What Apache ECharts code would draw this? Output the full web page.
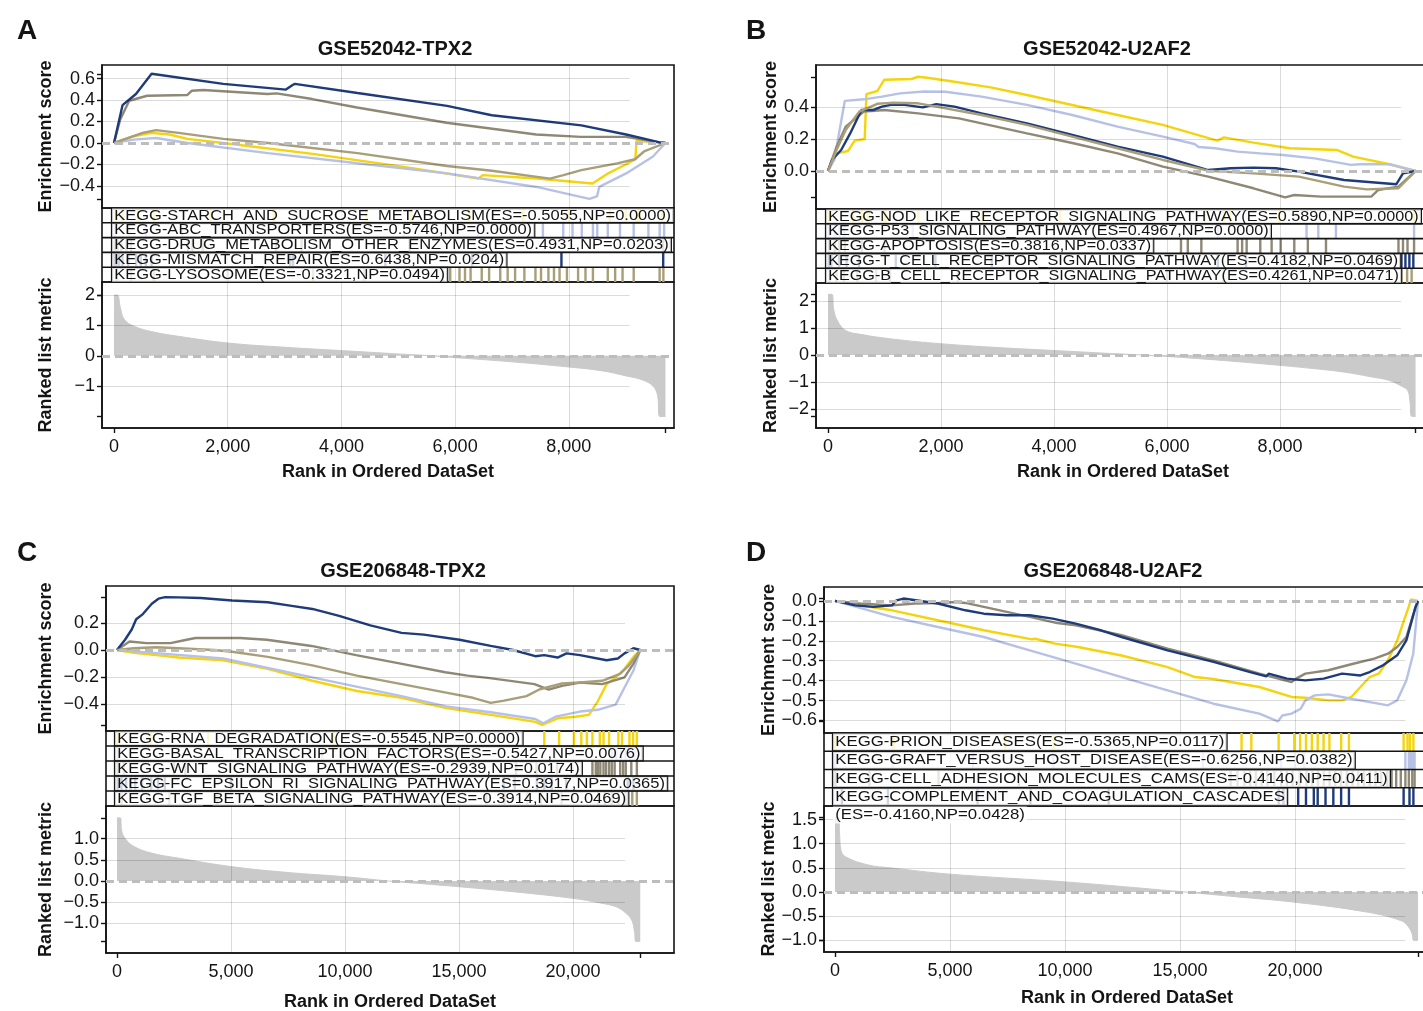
<!DOCTYPE html>
<html>
<head>
<meta charset="utf-8">
<script src="https://cdn.jsdelivr.net/npm/echarts@6/dist/echarts.min.js"></script>
<style>
  html, body { margin: 0; padding: 0; background: #fff; }
  #chart { width: 1423px; height: 1011px; }
</style>
</head>
<body>
<div id="chart"></div>
<script>
// ---------- Panel A: GSE52042-TPX2 ----------
const aLabels = [
  'KEGG-STARCH_AND_SUCROSE_METABOLISM(ES=-0.5055,NP=0.0000)',
  'KEGG-ABC_TRANSPORTERS(ES=-0.5746,NP=0.0000)',
  'KEGG-DRUG_METABOLISM_OTHER_ENZYMES(ES=0.4931,NP=0.0203)',
  'KEGG-MISMATCH_REPAIR(ES=0.6438,NP=0.0204)',
  'KEGG-LYSOSOME(ES=-0.3321,NP=0.0494)'
];
const aStarchES = [[0,0],[346,0.063],[661,0.094],[976,0.079],[1291,0.038],[1921,0],[3496,-0.101],[5071,-0.22],[6409,-0.33],[6488,-0.299],[7433,-0.33],[8417,-0.377],[8700,-0.28],[9000,-0.2],[9170,-0.15],[9190,0.02],[9700,0]];
const aAbcES = [[0,0],[346,0.031],[740,0.047],[1291,0],[2709,-0.094],[4283,-0.189],[5858,-0.283],[7433,-0.409],[8362,-0.52],[8496,-0.497],[8535,-0.409],[9008,-0.283],[9480,-0.126],[9700,0]];
const aDrugES = [[0,0],[110,0.22],[268,0.393],[583,0.44],[1291,0.447],[1370,0.487],[1567,0.493],[2701,0.456],[2859,0.462],[3488,0.409],[4276,0.33],[5850,0.189],[7425,0.079],[8213,0.057],[9000,0.057],[9598,0.006],[9700,0]];
const aMismatchES = [[0,0],[150,0.352],[386,0.456],[661,0.644],[1921,0.55],[3024,0.497],[3142,0.54],[3181,0.55],[4283,0.465],[5858,0.346],[6646,0.258],[8220,0.164],[9008,0.079],[9598,0.006],[9700,0]];
const aLysoES = [[0,0],[504,0.094],[740,0.12],[1134,0.094],[1921,0.038],[2709,0],[4283,-0.094],[5858,-0.214],[6646,-0.258],[7669,-0.332],[7906,-0.299],[8220,-0.252],[8850,-0.189],[9165,-0.151],[9323,-0.079],[9700,0]];
const aStarchHits = [30,150,420,700,1700,2810,4440,5230,6250,7200,8000,8420,8720,9000,9180,9210,9240,9640];
const aAbcHits = [20,260,560,1200,2400,3700,5100,6400,7544,7902,8065,8228,8424,8500,8685,8900,9141,9400,9598,9676];
const aDrugHits = [15,60,130,220,300,1300,1380,1560,2850,3300,5200,9660];
const aMismatchHits = [10,45,90,150,250,390,470,560,660,3100,3150,4773,6300,7870,9660];
const aLysoHits = [50,300,700,2000,3500,4400,5783,5914,6077,6174,6272,6468,6598,6794,6924,7055,7218,7413,7511,7641,7739,7837,7967,8163,8293,8424,8685,8815,8945,9141,9597,9663];
const aMetric = [[0,2.0],[60,2.0],[110,1.6],[180,1.2],[354,0.97],[700,0.78],[1134,0.64],[2000,0.42],[3000,0.28],[4000,0.17],[5000,0.06],[5500,0.01],[6000,-0.06],[7000,-0.2],[8000,-0.37],[8600,-0.5],[9000,-0.66],[9300,-0.8],[9480,-1.0],[9560,-1.3],[9600,-2.0],[9700,-2.0]];
const aEsTicks = [-0.4,-0.2,0,0.2,0.4,0.6];
const aMetricTicks = [-1,0,1,2];
const aRankTicks = [0,2000,4000,6000,8000];

// ---------- Panel B: GSE52042-U2AF2 ----------
const bLabels = [
  'KEGG-NOD_LIKE_RECEPTOR_SIGNALING_PATHWAY(ES=0.5890,NP=0.0000)',
  'KEGG-P53_SIGNALING_PATHWAY(ES=0.4967,NP=0.0000)',
  'KEGG-APOPTOSIS(ES=0.3816,NP=0.0337)',
  'KEGG-T_CELL_RECEPTOR_SIGNALING_PATHWAY(ES=0.4182,NP=0.0469)',
  'KEGG-B_CELL_RECEPTOR_SIGNALING_PATHWAY(ES=0.4261,NP=0.0471)'
];
const bNodES = [[0,0],[152,0.11],[353,0.125],[473,0.19],[650,0.2],[680,0.48],[874,0.5],[994,0.57],[1476,0.575],[1596,0.589],[1756,0.583],[2238,0.558],[2879,0.523],[3521,0.475],[4403,0.406],[5125,0.35],[5927,0.288],[6889,0.19],[7009,0.21],[7531,0.177],[8172,0.142],[9014,0.131],[9295,0.09],[9937,0.042],[10400,0]];
const bP53ES = [[0,0],[112,0.069],[297,0.438],[634,0.448],[955,0.465],[1276,0.485],[1700,0.4967],[2077,0.495],[2719,0.465],[3521,0.413],[4323,0.35],[5125,0.277],[5927,0.215],[6488,0.169],[6560,0.15],[6849,0.142],[7250,0.121],[7651,0.11],[8052,0.1],[8613,0.079],[9254,0.038],[9415,0.042],[9937,0.042],[10400,0]];
const bApopES = [[0,0],[152,0.152],[313,0.277],[634,0.371],[1000,0.3816],[1596,0.36],[2318,0.329],[3521,0.235],[4323,0.175],[5125,0.11],[5927,0.027],[6729,-0.035],[7531,-0.108],[8092,-0.165],[8253,-0.15],[8733,-0.16],[9615,-0.16],[9736,-0.119],[10097,-0.098],[10400,0]];
const bTcellES = [[0,0],[72,0.069],[233,0.131],[393,0.235],[593,0.381],[794,0.381],[955,0.402],[1115,0.413],[1356,0.413],[1677,0.398],[1917,0.4182],[2238,0.402],[2719,0.36],[3521,0.298],[4323,0.225],[5125,0.152],[5927,0.09],[6729,0.006],[7130,0.017],[7531,0.021],[7931,0.017],[8333,-0.004],[9134,-0.056],[10057,-0.083],[10177,-0.015],[10400,0]];
const bBcellES = [[0,0],[152,0.131],[313,0.256],[553,0.371],[874,0.42],[1115,0.4261],[1596,0.423],[1917,0.402],[2719,0.35],[3521,0.288],[4323,0.215],[5125,0.142],[5927,0.069],[6729,0.002],[7531,-0.015],[8333,-0.035],[9134,-0.098],[9535,-0.115],[10097,-0.108],[10400,0]];
const bNodHits = [14,443,600,700,720,1000,1020,1600,2726,4110,6671,7009,7120,7985,10373];
const bP53Hits = [14,120,200,290,1500,1700,4000,6900,8470,8678,8990,10373];
const bApopHits = [20,120,200,300,600,1000,6248,6368,6608,7250,7330,7410,7651,7852,8012,8253,8493,8814,10097,10177,10257,10373];
const bTcellHits = [14,60,200,330,550,1200,1900,2900,6900,7400,10150,10220,10290,10360];
const bBcellHits = [30,150,280,520,850,1100,2300,6000,7000,10150,10250,10330];
const bMetric = [[0,2.25],[70,2.25],[100,1.7],[160,1.3],[313,0.91],[600,0.76],[1115,0.6],[2000,0.42],[3000,0.28],[4000,0.17],[5000,0.06],[5500,0.01],[6000,-0.05],[7000,-0.2],[8000,-0.38],[8600,-0.5],[9135,-0.63],[9600,-0.8],[9937,-0.94],[10150,-1.15],[10258,-1.3],[10300,-1.7],[10330,-2.27],[10400,-2.27]];
const bEsTicks = [0,0.2,0.4];
const bMetricTicks = [-2,-1,0,1,2];
const bRankTicks = [0,2000,4000,6000,8000];

// ---------- Panel C: GSE206848-TPX2 ----------
const cLabels = [
  'KEGG-RNA_DEGRADATION(ES=-0.5545,NP=0.0000)',
  'KEGG-BASAL_TRANSCRIPTION_FACTORS(ES=-0.5427,NP=0.0076)',
  'KEGG-WNT_SIGNALING_PATHWAY(ES=-0.2939,NP=0.0174)',
  'KEGG-FC_EPSILON_RI_SIGNALING_PATHWAY(ES=0.3917,NP=0.0365)',
  'KEGG-TGF_BETA_SIGNALING_PATHWAY(ES=-0.3914,NP=0.0469)'
];
const cRnaES = [[0,0],[743,-0.02],[1722,-0.038],[2700,-0.056],[4656,-0.076],[6612,-0.139],[8568,-0.228],[10524,-0.304],[12480,-0.354],[14436,-0.43],[16392,-0.481],[18348,-0.532],[18641,-0.5545],[19326,-0.506],[20108,-0.494],[20695,-0.481],[21086,-0.38],[21477,-0.253],[21869,-0.203],[22260,-0.139],[22651,-0.051],[22950,0]];
const cBasalES = [[0,0],[743,-0.01],[4656,-0.063],[8568,-0.203],[12480,-0.342],[14436,-0.418],[16392,-0.461],[18348,-0.511],[18700,-0.5427],[19228,-0.494],[20304,-0.456],[21086,-0.443],[21869,-0.405],[22260,-0.278],[22651,-0.152],[22950,0]];
const cWntES = [[0,0],[548,0.063],[1291,0.051],[2347,0.051],[3052,0.076],[3443,0.089],[5400,0.089],[6573,0.076],[8530,0.03],[10486,-0.038],[12442,-0.101],[14398,-0.165],[15376,-0.19],[16354,-0.208],[18310,-0.253],[18935,-0.294],[19522,-0.266],[20304,-0.241],[21282,-0.253],[22260,-0.203],[22651,-0.101],[22950,0]];
const cFcES = [[0,0],[352,0.076],[646,0.152],[841,0.228],[1135,0.266],[1526,0.342],[1819,0.38],[2113,0.3917],[2700,0.39],[3678,0.385],[5047,0.367],[6612,0.354],[7590,0.329],[8568,0.304],[9742,0.253],[11111,0.182],[12480,0.127],[13458,0.114],[15023,0.076],[16392,0.03],[17370,0],[18348,-0.046],[18739,-0.038],[19326,-0.056],[19717,-0.025],[20304,-0.038],[21477,-0.076],[21966,-0.063],[22260,-0.025],[22651,0.013],[22950,0]];
const cTgfES = [[0,0],[743,0.013],[1722,0.02],[2700,0.013],[4265,0],[5047,-0.013],[6612,-0.051],[8568,-0.114],[10524,-0.19],[12480,-0.253],[14436,-0.316],[15610,-0.354],[16392,-0.3914],[16979,-0.375],[17957,-0.342],[18544,-0.291],[19522,-0.248],[20304,-0.241],[21282,-0.228],[22064,-0.177],[22455,-0.114],[22950,0]];
const cRnaHits = [32,1500,4000,9500,18741,19391,20040,20365,20609,20852,21177,21339,21583,21989,22151,22476,22638,22801];
const cBasalHits = [30,5400,9000,11000,12800,15600,19200,21700,21900,22100,22300,22500,22700,22850];
const cWntHits = [30,300,2500,3000,9800,12500,17500,18400,19300,20852,21000,21096,21200,21339,21450,21583,21700,21827,22070,22200,22314,22557,22801];
const cFcHits = [32,200,400,600,800,1100,1500,1800,2100,5000,16955,17442,18417,18741,19066,19700,22400,22650];
const cTgfHits = [200,2300,4400,9900,12400,16200,17000,18000,18600,19500,21100,21400,21700,22000,22300,22600,22800];
const cMetric = [[0,1.49],[150,1.49],[200,1.2],[333,1.02],[725,0.82],[1500,0.66],[2685,0.54],[5000,0.34],[7500,0.2],[10000,0.1],[11900,0],[15000,-0.135],[17500,-0.26],[20000,-0.41],[21200,-0.52],[21900,-0.61],[22300,-0.75],[22580,-0.93],[22700,-1.2],[22760,-1.43],[22950,-1.43]];
const cEsTicks = [-0.4,-0.2,0,0.2];
const cMetricTicks = [-1,-0.5,0,0.5,1];
const cRankTicks = [0,5000,10000,15000,20000];

// ---------- Panel D: GSE206848-U2AF2 ----------
const dLabels = [
  'KEGG-PRION_DISEASES(ES=-0.5365,NP=0.0117)',
  'KEGG-GRAFT_VERSUS_HOST_DISEASE(ES=-0.6256,NP=0.0382)',
  'KEGG-CELL_ADHESION_MOLECULES_CAMS(ES=-0.4140,NP=0.0411)',
  'KEGG-COMPLEMENT_AND_COAGULATION_CASCADES\n(ES=-0.4160,NP=0.0428)'
];
const dPrionES = [[0,0],[1478,-0.03],[2476,-0.047],[4473,-0.097],[6470,-0.147],[8568,-0.193],[8700,-0.19],[9567,-0.214],[10565,-0.231],[12462,-0.274],[14459,-0.332],[15657,-0.382],[16456,-0.392],[18453,-0.432],[19851,-0.482],[20450,-0.486],[21448,-0.499],[22047,-0.499],[22446,-0.482],[22846,-0.432],[23245,-0.382],[23644,-0.365],[24044,-0.298],[24443,-0.198],[24942,-0.03],[25042,0.007],[25350,0]];
const dGraftES = [[0,0],[2476,-0.08],[4473,-0.131],[6470,-0.181],[8467,-0.248],[10465,-0.315],[12462,-0.382],[14459,-0.449],[16456,-0.516],[18453,-0.566],[19252,-0.605],[19451,-0.575],[19851,-0.566],[20250,-0.541],[20450,-0.499],[20849,-0.474],[21448,-0.469],[22446,-0.491],[24044,-0.524],[24443,-0.499],[24842,-0.399],[25142,-0.265],[25350,0]];
const dCamsES = [[0,0],[1078,-0.013],[2476,-0.022],[3475,-0.013],[4473,-0.01],[5272,-0.005],[5671,-0.01],[6470,-0.03],[8467,-0.08],[9665,-0.111],[10465,-0.122],[12462,-0.172],[14459,-0.239],[16456,-0.298],[18453,-0.365],[19851,-0.407],[20051,-0.39],[20450,-0.365],[21448,-0.348],[22446,-0.318],[23445,-0.29],[24044,-0.265],[24443,-0.231],[24842,-0.181],[25242,-0.03],[25350,0]];
const dComplementES = [[0,0],[879,-0.022],[1677,-0.03],[2476,-0.022],[2676,0.003],[2975,0.012],[3275,0.007],[4473,-0.013],[5671,-0.047],[6470,-0.064],[7468,-0.072],[8467,-0.072],[9465,-0.089],[10465,-0.114],[11463,-0.144],[12462,-0.181],[14459,-0.248],[16456,-0.306],[18053,-0.357],[18752,-0.379],[18852,-0.365],[19651,-0.39],[20450,-0.399],[21249,-0.39],[22047,-0.365],[22846,-0.374],[23245,-0.357],[23844,-0.322],[24443,-0.273],[24842,-0.198],[25242,-0.03],[25350,0]];
const dPrionHits = [20,2550,7400,9500,17676,18101,19289,19968,20223,20478,20733,20987,21242,21497,22006,22346,24723,24893,25000,25148];
const dGraftHits = [20,2500,6000,9500,13500,16000,19400,20000,20400,24800,24950,25000,25050,25100,25150,25200];
const dCamsHits = [20,1500,4500,8000,17200,17500,17800,18050,18300,18550,18800,19100,19400,19650,19900,20200,20500,20750,21000,21250,21500,21750,22000,22250,22500,22750,23000,23250,23500,23750,24000,24200,24400,24600,24800,24950,25100,25200];
const dComplementHits = [300,2300,6200,8500,11900,19289,19500,20138,20478,20818,20987,21327,21667,22006,22346,24723,24978,25148];
const dMetric = [[0,1.55],[150,1.55],[200,1.2],[257,0.87],[455,0.73],[1445,0.56],[2435,0.5],[5000,0.37],[10000,0.21],[15000,0.01],[17500,-0.1],[20000,-0.21],[23200,-0.42],[24600,-0.59],[24900,-0.7],[25100,-0.87],[25150,-1.0],[25350,-1.0]];
const dEsTicks = [-0.6,-0.5,-0.4,-0.3,-0.2,-0.1,0];
const dMetricTicks = [-1,-0.5,0,0.5,1,1.5];
const dRankTicks = [0,5000,10000,15000,20000];

// ---------- styling ----------
const FONT = '"Liberation Sans", Arial, Helvetica, sans-serif';
const YELLOW = '#F4D40C', SKY = '#B7C1E6', GRAY = '#8E8875', NAVY = '#1F3B7A', KHAKI = '#A89E78';
const INK = '#141414';
const METRIC_FILL = '#CACACA';
const GUIDE = 'rgba(0,0,0,0.14)';

const thousands = v => String(v).replace(/\B(?=(\d{3})+(?!\d))/g, ',');
const fixed = d => v => (v < 0 ? '\u2212' : '') + Math.abs(v).toFixed(d);

// layout of the four GSEA panels (pixel boxes, axis ranges)
const panels = [
  { letter: 'A', title: 'GSE52042-TPX2', letterX: 12, letterY: 12, titleX: 390, titleY: 34,
    left: 102, right: 674, esTop: 65, rugTop: 208, rankTop: 282, rankBottom: 428,
    xMin: -211, xMax: 9850, gridEnd: 9070, esMin: -0.605, esMax: 0.726, esDigits: 1,
    rkMin: -2.38, rkMax: 2.43, rkDigits: 0, yNameGap: 47, xNameGap: 35,
    labelFont: 15, labelScale: 1.10, esTicks: aEsTicks, rkTicks: aMetricTicks, xTicks: aRankTicks,
    labels: aLabels, metric: aMetric,
    sets: [[aStarchES, aStarchHits, YELLOW], [aAbcES, aAbcHits, SKY], [aDrugES, aDrugHits, GRAY],
           [aMismatchES, aMismatchHits, NAVY], [aLysoES, aLysoHits, KHAKI]] },
  { letter: 'B', title: 'GSE52042-U2AF2', letterX: 741, letterY: 12, titleX: 1102, titleY: 34,
    left: 816, right: 1430, esTop: 65, rugTop: 209, rankTop: 283, rankBottom: 428,
    xMin: -212, xMax: 10655, gridEnd: 10140, esMin: -0.2375, esMax: 0.6625, esDigits: 1,
    rkMin: -2.70, rkMax: 2.67, rkDigits: 0, yNameGap: 36, xNameGap: 35,
    labelFont: 15, labelScale: 1.08, esTicks: bEsTicks, rkTicks: bMetricTicks, xTicks: bRankTicks,
    labels: bLabels, metric: bMetric,
    sets: [[bNodES, bNodHits, YELLOW], [bP53ES, bP53Hits, SKY], [bApopES, bApopHits, GRAY],
           [bTcellES, bTcellHits, NAVY], [bBcellES, bBcellHits, KHAKI]] },
  { letter: 'C', title: 'GSE206848-TPX2', letterX: 12, letterY: 534, titleX: 398, titleY: 556,
    left: 106, right: 674, esTop: 586, rugTop: 731, rankTop: 806, rankBottom: 953,
    xMin: -482, xMax: 24430, gridEnd: 22280, esMin: -0.6, esMax: 0.474, esDigits: 1,
    rkMin: -1.70, rkMax: 1.77, rkDigits: 1, yNameGap: 51, xNameGap: 40,
    labelFont: 15, labelScale: 1.10, esTicks: cEsTicks, rkTicks: cMetricTicks, xTicks: cRankTicks,
    labels: cLabels, metric: cMetric,
    sets: [[cRnaES, cRnaHits, YELLOW], [cBasalES, cBasalHits, SKY], [cWntES, cWntHits, GRAY],
           [cFcES, cFcHits, NAVY], [cTgfES, cTgfHits, KHAKI]] },
  { letter: 'D', title: 'GSE206848-U2AF2', letterX: 741, letterY: 534, titleX: 1108, titleY: 556,
    left: 824, right: 1430, esTop: 587, rugTop: 733, rankTop: 806, rankBottom: 952,
    xMin: -478, xMax: 25870, gridEnd: 24800, esMin: -0.663, esMax: 0.07, esDigits: 1,
    rkMin: -1.24, rkMax: 1.78, rkDigits: 1, yNameGap: 41, xNameGap: 37,
    labelFont: 15, labelScale: 1.12, esTicks: dEsTicks, rkTicks: dMetricTicks, xTicks: dRankTicks,
    labels: dLabels, metric: dMetric,
    sets: [[dPrionES, dPrionHits, YELLOW], [dGraftES, dGraftHits, SKY], [dCamsES, dCamsHits, GRAY],
           [dComplementES, dComplementHits, NAVY]] }
];

const option = {
  animation: false,
  backgroundColor: '#ffffff',
  textStyle: { fontFamily: FONT },
  title: [], grid: [], xAxis: [], yAxis: [], series: []
};

// faint reference lines: vertical at rank ticks, horizontal at value ticks
function guideSeries(xi, yi, P, hValues, z) {
  const lines = [];
  P.xTicks.filter(v => v !== 0).forEach(v => lines.push({ xAxis: v }));
  hValues.filter(v => v !== 0).forEach(v => lines.push([{ coord: [P.xMin, v] }, { coord: [P.gridEnd, v] }]));
  return {
    type: 'line', xAxisIndex: xi, yAxisIndex: yi, z: z, silent: true,
    data: [[P.xMin, 0]], showSymbol: false, lineStyle: { opacity: 0 },
    markLine: { symbol: 'none', silent: true, animation: false, label: { show: false },
      lineStyle: { color: GUIDE, width: 1, type: 'solid' }, data: lines }
  };
}

function zeroLineSeries(xi, yi, P, z) {
  return {
    type: 'line', xAxisIndex: xi, yAxisIndex: yi, z: z, silent: true,
    data: [[P.xMin, 0]], showSymbol: false, lineStyle: { opacity: 0 },
    markLine: { symbol: 'none', silent: true, animation: false, label: { show: false },
      lineStyle: { color: '#BDBDBD', width: 3, type: [8, 5] }, data: [{ yAxis: 0 }] }
  };
}

const labelStyleBase = { fill: INK, align: 'left', verticalAlign: 'top',
  backgroundColor: 'rgba(255,255,255,0.78)', padding: [0, 2, 0, 2] };

panels.forEach((P, pi) => {
  const g = pi * 3;
  const width = P.right - P.left;
  const nRows = P.labels.length;
  const box = { show: true, borderColor: INK, borderWidth: 1.6, backgroundColor: 'transparent', outerBoundsMode: 'none' };

  option.title.push(
    { text: P.letter, left: P.letterX, top: P.letterY,
      textStyle: { fontSize: 28, fontWeight: 'bold', color: INK, fontFamily: FONT } },
    { text: P.title, left: P.titleX, top: P.titleY, textAlign: 'center',
      textStyle: { fontSize: 20, fontWeight: 'bold', color: INK, fontFamily: FONT } }
  );

  option.grid.push(
    Object.assign({ left: P.left, top: P.esTop, width: width, height: P.rugTop - P.esTop }, box),
    Object.assign({ left: P.left, top: P.rugTop, width: width, height: P.rankTop - P.rugTop }, box),
    Object.assign({ left: P.left, top: P.rankTop, width: width, height: P.rankBottom - P.rankTop }, box)
  );

  const nGenes = P.metric[P.metric.length - 1][0];
  const hidden = { show: false };

  option.xAxis.push(
    { type: 'value', gridIndex: g, min: P.xMin, max: P.xMax, show: false, splitLine: hidden },
    { type: 'value', gridIndex: g + 1, min: P.xMin, max: P.xMax, show: false, splitLine: hidden },
    { type: 'value', gridIndex: g + 2, min: P.xMin, max: P.xMax, splitLine: hidden,
      axisLine: { show: true, onZero: false, lineStyle: { color: INK, width: 1.6 } },
      axisTick: { show: true, length: 5, customValues: [0, nGenes], lineStyle: { color: INK, width: 1.4 } },
      axisLabel: { customValues: P.xTicks, formatter: thousands, fontSize: 18, color: INK, margin: 10 },
      name: 'Rank in Ordered DataSet', nameLocation: 'middle', nameGap: P.xNameGap,
      nameTextStyle: { fontSize: 18, fontWeight: 'bold', color: INK } }
  );

  // extra ticks mark the range of the plotted values
  const esVals = P.sets.flatMap(s => s[0].map(p => p[1]));
  const esRange = [Math.min(...esVals), Math.max(...esVals)];
  const rkVals = P.metric.map(p => p[1]);
  const rkRange = [Math.min(...rkVals), Math.max(...rkVals)];

  option.yAxis.push(
    { type: 'value', gridIndex: g, min: P.esMin, max: P.esMax, splitLine: hidden,
      axisLine: { show: true, onZero: false, lineStyle: { color: INK, width: 1.6 } },
      axisTick: { show: true, length: 5, customValues: P.esTicks.concat(esRange), lineStyle: { color: INK, width: 1.4 } },
      axisLabel: { customValues: P.esTicks, formatter: fixed(P.esDigits), fontSize: 18, color: INK, margin: 7 },
      name: 'Enrichment score', nameLocation: 'middle', nameRotate: 90, nameGap: P.yNameGap,
      nameTextStyle: { fontSize: 18, fontWeight: 'bold', color: INK } },
    { type: 'value', gridIndex: g + 1, min: 0, max: nRows, inverse: true, show: false, splitLine: hidden },
    { type: 'value', gridIndex: g + 2, min: P.rkMin, max: P.rkMax, splitLine: hidden,
      axisLine: { show: true, onZero: false, lineStyle: { color: INK, width: 1.6 } },
      axisTick: { show: true, length: 5, customValues: P.rkTicks.concat(rkRange), lineStyle: { color: INK, width: 1.4 } },
      axisLabel: { customValues: P.rkTicks, formatter: fixed(P.rkDigits), fontSize: 18, color: INK, margin: 7 },
      name: 'Ranked list metric', nameLocation: 'middle', nameRotate: 90, nameGap: P.yNameGap,
      nameTextStyle: { fontSize: 18, fontWeight: 'bold', color: INK } }
  );

  // guides
  option.series.push(guideSeries(g, g, P, P.esTicks, 1));
  option.series.push(guideSeries(g + 1, g + 1, P, [], 1));
  option.series.push(guideSeries(g + 2, g + 2, P, P.rkTicks, 3));
  option.series.push(zeroLineSeries(g, g, P, 2));

  // running enrichment score curves
  P.sets.forEach(([es, , color]) => {
    option.series.push({
      type: 'line', xAxisIndex: g, yAxisIndex: g, z: 3, silent: true,
      data: es, showSymbol: false, smooth: false,
      lineStyle: { color: color, width: 2.4 }
    });
  });

  // hit positions of each gene set, one row per set
  P.sets.forEach(([, hits, color], row) => {
    option.series.push({
      type: 'custom', xAxisIndex: g + 1, yAxisIndex: g + 1, z: 3, silent: true, clip: true,
      data: hits.map(r => [r, row]),
      renderItem: (params, api) => {
        const a = api.coord([api.value(0), api.value(1)]);
        const b = api.coord([api.value(0), api.value(1) + 1]);
        return { type: 'rect', shape: { x: a[0] - 1.2, y: a[1], width: 2.4, height: b[1] - a[1] },
                 style: { fill: color } };
      }
    });
  });

  // gene-set names with their statistics (a long name wraps onto a second, unframed line)
  const texts = P.labels;
  option.series.push({
    type: 'custom', xAxisIndex: g + 1, yAxisIndex: g + 1, z: 6, silent: true,
    data: texts.map((t, i) => [0, i]),
    renderItem: (params, api) => {
      const lines = texts[params.dataIndex].split('\n');
      const a = api.coord([api.value(0), api.value(1)]);
      const b = api.coord([api.value(0), api.value(1) + 1]);
      const h = b[1] - a[1];
      const font = P.labelFont + 'px ' + FONT;
      const children = lines.map((line, k) => ({
        type: 'text', x: a[0] - 2, y: a[1] + 0.5 + k * h, scaleX: P.labelScale,
        style: Object.assign({}, labelStyleBase, {
          text: line, x: 0, y: 0, font: font, lineHeight: Math.round(h) - 1,
          borderColor: k === 0 ? INK : 'transparent', borderWidth: k === 0 ? 1 : 0
        })
      }));
      return { type: 'group', children: children };
    }
  });

  // row separators of the hit panel
  option.series.push({
    type: 'custom', xAxisIndex: g + 1, yAxisIndex: g + 1, z: 7, silent: true,
    data: texts.slice(1).map((t, i) => [0, i + 1]),
    renderItem: (params, api) => {
      const a = api.coord([P.xMin, api.value(1)]);
      const b = api.coord([P.xMax, api.value(1)]);
      return { type: 'line', shape: { x1: a[0], y1: a[1], x2: b[0], y2: b[1] },
               style: { stroke: INK, lineWidth: 1.6 } };
    }
  });

  // ranked list metric
  option.series.push({
    type: 'line', xAxisIndex: g + 2, yAxisIndex: g + 2, z: 2, silent: true,
    data: P.metric, showSymbol: false, smooth: 0.4,
    lineStyle: { color: METRIC_FILL, width: 1 },
    areaStyle: { color: METRIC_FILL, opacity: 1 }
  });
  option.series.push(zeroLineSeries(g + 2, g + 2, P, 4));
});

const chart = echarts.init(document.getElementById('chart'), null, { renderer: 'canvas' });
chart.setOption(option);
</script>
</body>
</html>
